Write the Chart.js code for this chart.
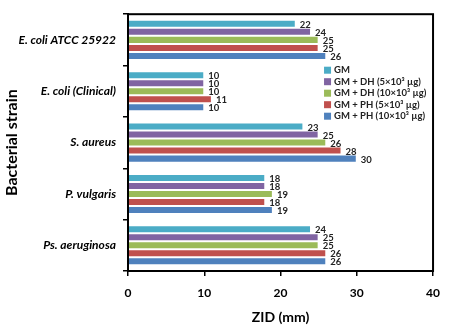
<!DOCTYPE html>
<html>
<head>
<meta charset="utf-8">
<script src="https://cdn.jsdelivr.net/npm/chart.js@4.4.0/dist/chart.umd.min.js"></script>
<style>
html, body { margin: 0; padding: 0; background: #fff; }
#wrap { position: relative; width: 450px; height: 326px; }
</style>
</head>
<body>
<div id="wrap"><canvas id="chart" width="450" height="326"></canvas></div>
<script>
// ===== DATA =====
const strains = ['E. coli ATCC 25922', 'E. coli (Clinical)', 'S. aureus', 'P. vulgaris', 'Ps. aeruginosa'];
const seriesNames = ['GM', 'GM + DH (5×10³ µg)', 'GM + DH (10×10³ µg)', 'GM + PH (5×10³ µg)', 'GM + PH (10×10³ µg)'];
const seriesColors = ['#4bacc6', '#8064a2', '#9bbb59', '#c0504d', '#4f81bd'];
const gm     = [22, 10, 23, 18, 24];
const gmDh5  = [24, 10, 25, 18, 25];
const gmDh10 = [25, 10, 26, 19, 25];
const gmPh5  = [25, 11, 28, 18, 26];
const gmPh10 = [26, 10, 30, 19, 26];
const xTicks = [0, 10, 20, 30, 40];

const FONT = 'Lato, "Open Sans", sans-serif';
Chart.defaults.font.family = FONT;
Chart.defaults.color = '#000';

const allSeries = [gm, gmDh5, gmDh10, gmPh5, gmPh10];

// kotak di sekeliling area plot
const framePlugin = {
    id: 'frame',
    afterDraw(chart) {
        const a = chart.chartArea, ctx = chart.ctx;
        ctx.save();
        ctx.strokeStyle = '#000';
        ctx.lineWidth = 2;
        ctx.strokeRect(a.left, a.top, a.right - a.left, a.bottom - a.top);
        ctx.restore();
    }
};

// angka di ujung batang
const valueLabels = {
    id: 'valueLabels',
    afterDatasetsDraw(chart) {
        const ctx = chart.ctx;
        ctx.save();
        ctx.font = 'bold 9.5px ' + FONT;
        ctx.fillStyle = '#222';
        ctx.textAlign = 'left';
        ctx.textBaseline = 'middle';
        chart.data.datasets.forEach((ds, i) => {
            chart.getDatasetMeta(i).data.forEach((bar, j) => {
                ctx.fillText(ds.data[j], bar.x + 4, bar.y + 1);
            });
        });
        ctx.restore();
    }
};

// legenda di dalam area plot
const innerLegend = {
    id: 'innerLegend',
    afterDraw(chart) {
        const a = chart.chartArea, ctx = chart.ctx;
        const x0 = a.right - 109, y0 = a.top + 56;
        ctx.save();
        ctx.font = 'bold 9.5px ' + FONT;
        ctx.textBaseline = 'middle';
        ctx.textAlign = 'left';
        seriesNames.forEach((name, i) => {
            const y = y0 + i * 11.5;
            ctx.fillStyle = seriesColors[i];
            ctx.fillRect(x0, y - 3.5, 7, 7);
            ctx.fillStyle = '#222';
            ctx.fillText(name, x0 + 10, y);
        });
        ctx.restore();
    }
};

new Chart(document.getElementById('chart'), {
    type: 'bar',
    data: {
        labels: strains,
        datasets: seriesNames.map((name, i) => ({
            label: name,
            data: allSeries[i],
            backgroundColor: seriesColors[i],
            borderColor: 'rgba(255,255,255,0.7)',
            borderWidth: 1,
            categoryPercentage: 0.78,
            barPercentage: 1.0
        }))
    },
    options: {
        indexAxis: 'y',
        responsive: false,
        animation: false,
        layout: { padding: { top: 5, right: 12, left: 0, bottom: 0 } },
        plugins: {
            legend: { display: false },
            tooltip: { enabled: false }
        },
        scales: {
            x: {
                min: 0,
                max: 40,
                afterBuildTicks: (scale) => { scale.ticks = xTicks.map(v => ({ value: v })); },
                ticks: { font: { size: 12, weight: 'bold' }, color: '#000', padding: 10 },
                grid: { drawOnChartArea: false, tickLength: 5, color: '#000', lineWidth: 1.5 },
                border: { color: '#000', width: 2 },
                title: { display: true, text: 'ZID (mm)', font: { size: 14, weight: 'bold' }, color: '#000', padding: { top: 4, bottom: 0 } },
                afterFit: (scale) => { scale.height = 55; }
            },
            y: {
                ticks: { font: { size: 12, weight: 'bold', style: 'italic' }, color: '#000', padding: 7 },
                grid: { offset: true, drawOnChartArea: false, tickLength: 5, color: '#000', lineWidth: 1.5 },
                border: { color: '#000', width: 2 },
                title: { display: true, text: 'Bacterial strain', font: { size: 16, weight: 'bold' }, color: '#000', padding: { top: 2, bottom: 0 } },
                afterFit: (scale) => { scale.width = 128; }
            }
        }
    },
    plugins: [framePlugin, valueLabels, innerLegend]
});
</script>
</body>
</html>
